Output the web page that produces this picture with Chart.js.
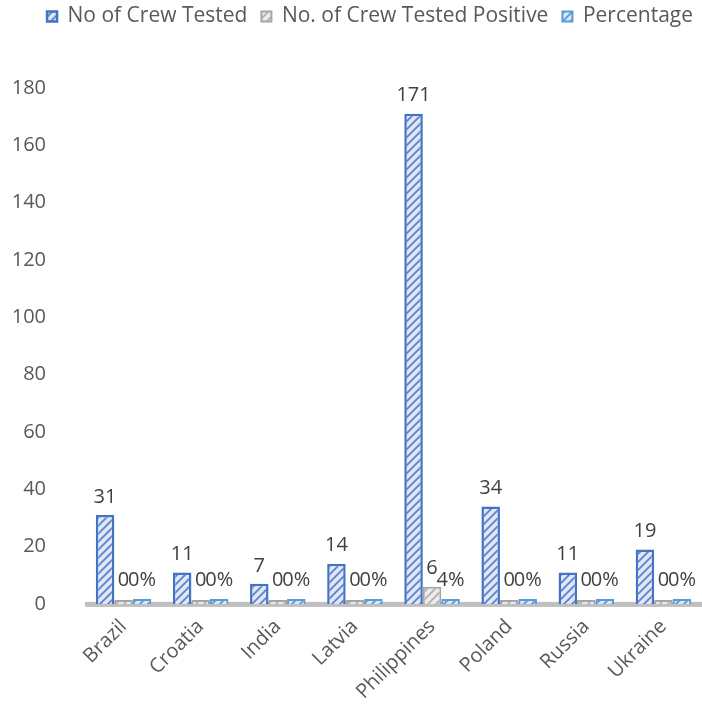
<!DOCTYPE html>
<html>
<head>
<meta charset="utf-8">
<script src="https://cdn.jsdelivr.net/npm/chart.js@4"></script>
<style>
  body { margin: 0; background: #fff; overflow: hidden; }
  #wrap { width: 702px; height: 709px; }
</style>
</head>
<body>
<div id="wrap"><canvas id="Mychart" width="702" height="709"></canvas></div>
<script>
// values
var countries = ['Brazil', 'Croatia', 'India', 'Latvia', 'Philippines', 'Poland', 'Russia', 'Ukraine'];
var crewTested = [31, 11, 7, 14, 171, 34, 11, 19];
var crewPositive = [0, 0, 0, 0, 6, 0, 0, 0];
var percentage = [0, 0, 0, 0, 0.035, 0, 0, 0];
var yTicks = [0, 20, 40, 60, 80, 100, 120, 140, 160, 180];

function stripes(bg, line){
    var c = document.createElement('canvas');
    c.width = 8; c.height = 8;
    var g = c.getContext('2d');
    g.fillStyle = bg;
    g.fillRect(0, 0, 8, 8);
    g.strokeStyle = line;
    g.lineWidth = 1.8;
    g.beginPath();
    g.moveTo(0, 8); g.lineTo(8, 0);
    g.moveTo(-2, 2); g.lineTo(2, -2);
    g.moveTo(6, 10); g.lineTo(10, 6);
    g.stroke();
    return g.createPattern(c, 'repeat');
}

var ctx = document.getElementById('Mychart').getContext('2d');
var bluePat = stripes('#dfe7f6', '#5b82cc');
var grayPat = stripes('#ececec', '#b0b0b0');
var lightPat = stripes('#d8e7f6', '#5b9bd5');

// draws the value labels above each bar
var valueLabels = {
    id: 'valueLabels',
    afterDatasetsDraw: function(chart){
        var c = chart.ctx;
        c.save();
        c.font = '20px "Open Sans", sans-serif';
        c.fillStyle = '#404040';
        c.textAlign = 'center';
        c.textBaseline = 'bottom';
        chart.data.datasets.forEach(function(ds, i){
            var meta = chart.getDatasetMeta(i);
            meta.data.forEach(function(bar, j){
                var txt = ds.labelText(j);
                var top = Math.min(bar.y, bar.base - 6);
                c.fillText(txt, bar.x, top - 8);
            });
        });
        c.restore();
    }
};

// thick grey floor line
var floor = {
    id: 'floor',
    beforeDatasetsDraw: function(chart){
        var c = chart.ctx, a = chart.chartArea;
        var y = chart.scales.y.getPixelForValue(0);
        c.save();
        c.fillStyle = '#bfbfbf';
        c.fillRect(a.left, y - 2, a.right - a.left, 5);
        c.restore();
    }
};

// extra room under the legend
var legendGap = {
    id: 'legendGap',
    beforeInit: function(chart){
        var fit = chart.legend.fit;
        chart.legend.fit = function(){
            fit.bind(chart.legend)();
            this.height += 51;
        };
    }
};

var chart = new Chart(ctx, {
    type: 'bar',
    data: {
        labels: countries,
        datasets: [{
            label: 'No of Crew Tested',
            data: crewTested,
            backgroundColor: bluePat,
            borderColor: '#4472c4',
            borderWidth: 2.5,
            labelText: function(j){ return String(crewTested[j]); }
        }, {
            label: 'No. of Crew Tested Positive',
            data: crewPositive,
            backgroundColor: grayPat,
            borderColor: '#a5a5a5',
            borderWidth: 2,
            minBarLength: 4,
            labelText: function(j){ return String(crewPositive[j]); }
        }, {
            label: 'Percentage',
            data: percentage,
            backgroundColor: lightPat,
            borderColor: '#5b9bd5',
            borderWidth: 2,
            minBarLength: 5,
            labelText: function(j){ return Math.round(percentage[j] * 100) + '%'; }
        }]
    },
    options: {
        responsive: false,
        animation: false,
        layout: { padding: { top: -8, right: -5, left: 14, bottom: 2 } },
        datasets: { bar: { categoryPercentage: 0.72, barPercentage: 1 } },
        plugins: {
            tooltip: { enabled: false },
            legend: {
                position: 'top',
                align: 'end',
                labels: {
                    color: '#595959',
                    font: { size: 21, family: '"Open Sans", sans-serif' },
                    boxWidth: 10,
                    boxHeight: 10,
                    padding: 14
                }
            }
        },
        scales: {
            x: {
                grid: { display: false },
                border: { display: false },
                afterFit: function(axis){
                    axis.paddingLeft = 0;
                    axis.paddingRight = 0;
                },
                ticks: {
                    color: '#595959',
                    font: { size: 20, family: '"Open Sans", sans-serif' },
                    maxRotation: 45,
                    minRotation: 45
                }
            },
            y: {
                min: 0,
                max: 180,
                afterBuildTicks: function(axis){
                    axis.ticks = yTicks.map(function(v){ return { value: v }; });
                },
                afterFit: function(axis){
                    axis.width = 71;
                },
                grid: { display: false },
                border: { display: false },
                ticks: {
                    color: '#595959',
                    font: { size: 20, family: '"Open Sans", sans-serif' },
                    padding: 31
                }
            }
        }
    },
    plugins: [legendGap, floor, valueLabels]
});
</script>
</body>
</html>
